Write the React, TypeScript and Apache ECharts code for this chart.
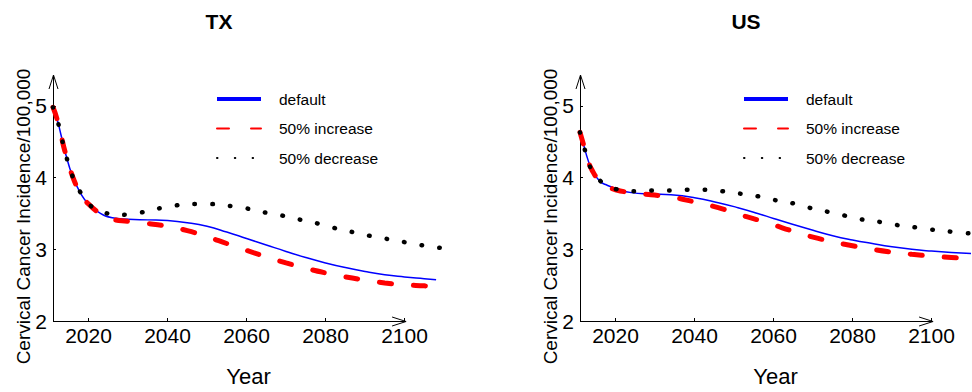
import React, { useEffect, useRef } from 'react';
import * as echarts from 'echarts';

const FONT = '"Liberation Sans", Arial, Helvetica, sans-serif';

const panelTitles = ['TX', 'US'];
const seriesNames = ['default', '50% increase', '50% decrease'];
const xTickLabels = [2020, 2040, 2060, 2080, 2100];
const yTickLabels = [2, 3, 4, 5];
const xAxisTitle = 'Year';
const yAxisTitle = 'Cervical Cancer Incidence/100,000';

// TX
const txYears = [2011, 2012, 2013, 2014, 2016, 2018, 2020, 2023, 2026, 2030, 2035, 2040, 2045, 2050, 2055, 2060, 2065, 2070, 2075, 2080, 2085, 2090, 2095, 2100, 2105, 2108];
const txDefault = [4.98, 4.82, 4.6, 4.37, 4.01, 3.78, 3.63, 3.5, 3.44, 3.42, 3.41, 3.4, 3.37, 3.32, 3.24, 3.15, 3.06, 2.97, 2.885, 2.81, 2.745, 2.69, 2.645, 2.615, 2.59, 2.575];
const txIncrease = [4.98, 4.82, 4.6, 4.37, 4.01, 3.78, 3.63, 3.5, 3.42, 3.39, 3.36, 3.32, 3.26, 3.175, 3.08, 2.985, 2.895, 2.81, 2.735, 2.67, 2.615, 2.57, 2.53, 2.505, 2.49, 2.48];
const txDecreaseYears = [2011, 2012, 2013, 2014, 2016, 2018, 2020, 2024, 2028, 2033, 2037, 2042, 2046, 2051, 2055, 2060, 2064, 2069, 2073, 2078, 2082, 2086, 2091, 2095, 2100, 2104, 2109];
const txDecrease = [4.98, 4.82, 4.6, 4.37, 4.01, 3.79, 3.63, 3.51, 3.48, 3.51, 3.56, 3.61, 3.63, 3.63, 3.61, 3.57, 3.52, 3.47, 3.42, 3.36, 3.3, 3.25, 3.19, 3.15, 3.1, 3.06, 3.02];

// US
const usYears = [2011, 2012, 2013, 2014, 2016, 2018, 2020, 2024, 2029, 2034, 2040, 2046, 2051, 2056, 2060, 2065, 2070, 2075, 2080, 2085, 2090, 2095, 2100, 2105, 2110];
const usDefault = [4.63, 4.44, 4.25, 4.11, 3.95, 3.89, 3.85, 3.79, 3.77, 3.76, 3.72, 3.65, 3.58, 3.5, 3.43, 3.345, 3.265, 3.19, 3.13, 3.08, 3.035, 3.0, 2.975, 2.955, 2.94];
const usIncrease = [4.63, 4.44, 4.25, 4.11, 3.95, 3.88, 3.83, 3.79, 3.76, 3.73, 3.66, 3.58, 3.49, 3.41, 3.34, 3.25, 3.17, 3.105, 3.05, 3.0, 2.96, 2.93, 2.905, 2.885, 2.87];
const usDecreaseYears = [2011, 2012, 2013, 2014, 2016, 2018, 2020, 2024, 2029, 2033, 2038, 2042, 2047, 2051, 2056, 2060, 2065, 2069, 2074, 2078, 2082, 2087, 2091, 2096, 2100, 2105, 2110];
const usDecrease = [4.63, 4.43, 4.25, 4.1, 3.96, 3.89, 3.84, 3.81, 3.82, 3.82, 3.83, 3.83, 3.81, 3.78, 3.74, 3.69, 3.64, 3.58, 3.52, 3.47, 3.42, 3.38, 3.34, 3.305, 3.275, 3.245, 3.22];

const X_MIN = 2011;
const X_MAX = 2110;
const X_ARROW = 2100.4;
const Y_MIN = 2;
const Y_MAX = 5.43;

const zip = (xs: number[], ys: number[]) => xs.map((x, i) => [x, ys[i]]);

const panelData = [
  { def: zip(txYears, txDefault), inc: zip(txYears, txIncrease), dec: zip(txDecreaseYears, txDecrease) },
  { def: zip(usYears, usDefault), inc: zip(usYears, usIncrease), dec: zip(usDecreaseYears, usDecrease) },
];

export default function App() {
  const ref = useRef<HTMLDivElement>(null);
  useEffect(() => {
    const chart = echarts.init(ref.current!, null, { renderer: 'svg' });
    const lefts = [53, 580];
    const grid = lefts.map((l) => ({ left: l, top: 75, width: 391, height: 252.7 }));
    const xAxis = lefts.map((_, i) => ({
      type: 'value',
      gridIndex: i,
      min: X_MIN,
      max: X_MAX,
      splitLine: { show: false },
      axisLine: { show: false },
      axisTick: { show: true, inside: true, length: 3, lineStyle: { color: '#000', width: 1 }, customValues: xTickLabels },
      axisLabel: {
        customValues: xTickLabels, fontSize: 21, color: '#000', fontFamily: FONT, margin: 4,
        formatter: (v: number) => String(Math.round(v)),
      },
      name: xAxisTitle,
      nameLocation: 'middle',
      nameGap: 44,
      nameTextStyle: { fontSize: 22, color: '#000', fontFamily: FONT },
    }));
    const yAxis = lefts.map((_, i) => ({
      type: 'value',
      gridIndex: i,
      min: Y_MIN,
      max: Y_MAX,
      splitLine: { show: false },
      axisLine: { show: false },
      axisTick: { show: true, inside: true, length: 3, lineStyle: { color: '#000', width: 1 }, customValues: yTickLabels },
      axisLabel: {
        customValues: yTickLabels, fontSize: 21, color: '#000', fontFamily: FONT, margin: 6,
        formatter: (v: number) => String(Math.round(v)),
      },
    }));
    const series: any[] = [];
    panelData.forEach((p, i) => {
      series.push({
        type: 'line', name: seriesNames[0], xAxisIndex: i, yAxisIndex: i, data: p.def,
        symbol: 'none', smooth: 0.5, z: 2,
        lineStyle: { color: '#0000ff', width: 1.5 },
        itemStyle: { color: '#0000ff' },
      });
      series.push({
        type: 'line', name: seriesNames[1], xAxisIndex: i, yAxisIndex: i, data: p.inc,
        symbol: 'none', smooth: 0.5, z: 3,
        lineStyle: { color: '#ff0000', width: 5, type: [12, 22], cap: 'round' },
        itemStyle: { color: '#ff0000' },
      });
      series.push({
        type: 'line', name: seriesNames[2], xAxisIndex: i, yAxisIndex: i, data: p.dec,
        symbol: 'none', smooth: 0.5, z: 4,
        lineStyle: { color: '#000000', width: 4.5, type: [0.5, 17.3], cap: 'round' },
        itemStyle: { color: '#000000' },
      });
    });
    const legend = lefts.map((l) => ({
      orient: 'vertical',
      left: l + 162,
      top: 91,
      padding: 0,
      itemWidth: 44,
      itemHeight: 12,
      itemGap: 13.5,
      selectedMode: false,
      itemStyle: { opacity: 0, color: 'transparent', borderWidth: 0 },
      textStyle: { fontSize: 15.5, color: '#000', fontFamily: FONT, padding: [0, 0, 0, 13] },
      data: [
        { name: seriesNames[0], lineStyle: { width: 4 } },
        { name: seriesNames[1] },
        { name: seriesNames[2] },
      ],
    }));
    chart.setOption({
      animation: false,
      backgroundColor: '#ffffff',
      grid,
      xAxis,
      yAxis,
      series,
      legend,
    } as any);

    const graphics: any[] = [];
    const r = (v: number) => Math.round(v) + 0.5;
    lefts.forEach((l, i) => {
      const p0 = chart.convertToPixel({ gridIndex: i } as any, [X_MIN, Y_MIN]) as number[];
      const pTop = chart.convertToPixel({ gridIndex: i } as any, [X_MIN, Y_MAX]) as number[];
      const pEnd = chart.convertToPixel({ gridIndex: i } as any, [X_ARROW, Y_MIN]) as number[];
      const x0 = r(p0[0]);
      const y0 = r(p0[1]);
      const yT = pTop[1];
      const xE = pEnd[0];
      const ls = { stroke: '#000', lineWidth: 1, fill: null };
      graphics.push({ type: 'polyline', z: 1, shape: { points: [[x0, yT], [x0, y0], [xE, y0]] }, style: ls });
      graphics.push({ type: 'polyline', z: 1, shape: { points: [[x0 - 4.5, yT + 14], [x0, yT], [x0 + 4.5, yT + 14]] }, style: ls });
      graphics.push({ type: 'polyline', z: 1, shape: { points: [[xE - 14, y0 - 4.5], [xE, y0], [xE - 14, y0 + 4.5]] }, style: ls });
      graphics.push({
        type: 'text', x: l + 166, y: 21,
        style: { text: panelTitles[i], fontSize: 21, fontWeight: 'bold', fontFamily: FONT, fill: '#000', align: 'center', verticalAlign: 'middle' },
      });
      graphics.push({
        type: 'text', x: l - 30, y: 216.5, rotation: Math.PI / 2,
        style: { text: yAxisTitle, fontSize: 19, fontFamily: FONT, fill: '#000', align: 'center', verticalAlign: 'middle' },
      });
    });
    chart.setOption({ graphic: graphics } as any);
    return () => chart.dispose();
  }, []);
  return <div ref={ref} style={{ position: 'absolute', left: 0, top: 0, width: 972, height: 392 }} />;
}
